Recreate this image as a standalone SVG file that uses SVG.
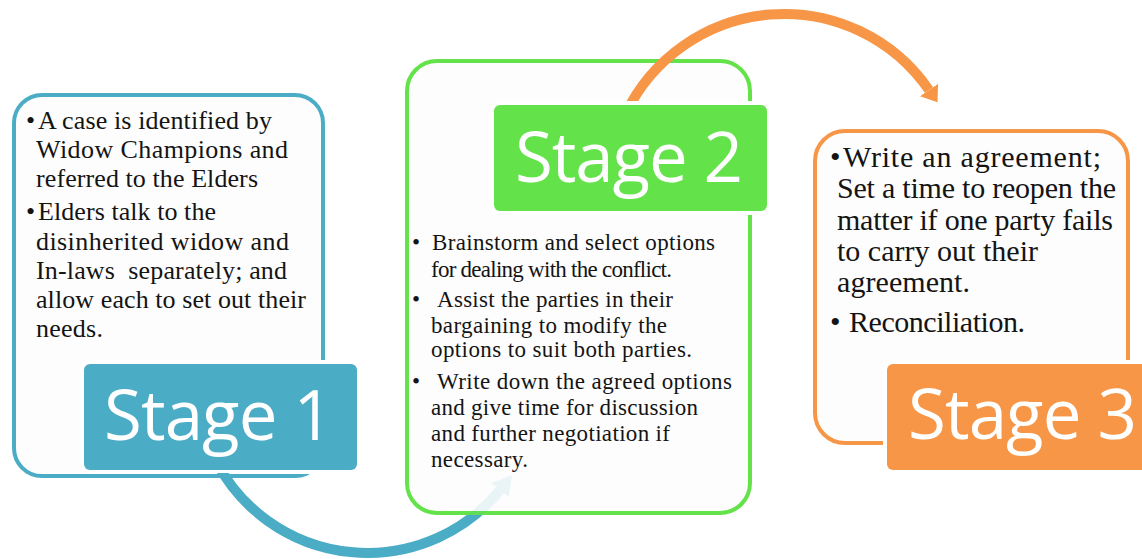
<svg xmlns="http://www.w3.org/2000/svg" width="1142" height="559" viewBox="0 0 1142 559">
<style>
.box{fill:#fdfdfd;stroke-width:4}
.lbl{stroke:#fff;stroke-width:8;paint-order:stroke}
.stage{font-family:"Open Sans","Liberation Sans",sans-serif;font-size:69px;fill:#fff}
.t{font-family:"Liberation Serif",serif;fill:#141414}
.t1{font-size:26px}
.t2{font-size:23px}
.t3{font-size:30px}
.arc{fill:none;stroke-width:10}
</style>
<defs>
<marker id="headBlue" viewBox="0 0 10 10" refX="0" refY="5" markerUnits="strokeWidth" markerWidth="1.9" markerHeight="2.2" orient="auto" preserveAspectRatio="none">
<path d="M0,0 L10,5 L0,10 Z" fill="#4bacc6"/>
</marker>
<marker id="headOrange" viewBox="0 0 10 10" refX="0" refY="5" markerUnits="strokeWidth" markerWidth="1.5" markerHeight="2.2" orient="auto" preserveAspectRatio="none">
<path d="M0,0 L10,5 L0,10 Z" fill="#f79646"/>
</marker>
<mask id="mBlue" maskUnits="userSpaceOnUse" x="0" y="0" width="1142" height="559">
<rect x="0" y="0" width="1142" height="559" fill="#fff"/>
<rect x="80" y="360" width="281" height="113" fill="#000"/>
<rect x="405" y="59" width="347" height="456" rx="32" fill="#1c1c1c"/>
</mask>
<mask id="mOrange" maskUnits="userSpaceOnUse" x="0" y="0" width="1142" height="559">
<rect x="0" y="0" width="1142" height="559" fill="#fff"/>
<rect x="490" y="101" width="281" height="114" fill="#000"/>
</mask>
</defs>

<g id="stage1">
<rect class="box" x="14" y="95" width="309" height="381" rx="28" stroke="#4bacc6"/>
<text class="t" x="26" y="129" font-size="26">•</text>
<text class="t t1" x="38" y="129" textLength="234">A case is identified by</text>
<text class="t t1" x="36" y="158" textLength="252">Widow Champions and</text>
<text class="t t1" x="36" y="187" textLength="222">referred to the Elders</text>
<text class="t" x="26" y="220" font-size="26">•</text>
<text class="t t1" x="38" y="220" textLength="178">Elders talk to the</text>
<text class="t t1" x="36" y="250" textLength="253">disinherited widow and</text>
<text class="t t1" x="36" y="279" textLength="251" style="white-space:pre">In-laws  separately; and</text>
<text class="t t1" x="36" y="308" textLength="270">allow each to set out their</text>
<text class="t t1" x="36" y="337" textLength="67">needs.</text>
<rect class="lbl" x="84" y="364" width="273" height="106" rx="6" fill="#4bacc6"/>
<text class="stage" x="104" y="440" textLength="229">Stage 1</text>
</g>

<g id="stage2">
<rect class="box" x="407" y="61" width="343" height="452" rx="30" stroke="#63e24a"/>
<rect class="lbl" x="494" y="105" width="273" height="106" rx="6" fill="#63e24a"/>
<text class="stage" x="515" y="182" textLength="228">Stage 2</text>
<text class="t" x="412" y="250" font-size="23">•</text>
<text class="t t2" x="432" y="250" textLength="283">Brainstorm and select options</text>
<text class="t t2" x="431" y="277" textLength="241">for dealing with the conflict.</text>
<text class="t" x="412" y="307" font-size="23">•</text>
<text class="t t2" x="437" y="307" textLength="236">Assist the parties in their</text>
<text class="t t2" x="431" y="333" textLength="236">bargaining to modify the</text>
<text class="t t2" x="431" y="357" textLength="261">options to suit both parties.</text>
<text class="t" x="412" y="389" font-size="23">•</text>
<text class="t t2" x="437" y="389" textLength="295">Write down the agreed options</text>
<text class="t t2" x="431" y="415" textLength="267">and give time for discussion</text>
<text class="t t2" x="431" y="441" textLength="239">and further negotiation if</text>
<text class="t t2" x="431" y="467" textLength="97">necessary.</text>
</g>

<g id="stage3">
<rect class="box" x="815" y="131" width="313" height="312" rx="30" stroke="#f79646"/>
<text class="t" x="830" y="167" font-size="30">•</text>
<text class="t t3" x="843" y="167" textLength="258">Write an agreement;</text>
<text class="t t3" x="837" y="198" textLength="279">Set a time to reopen the</text>
<text class="t t3" x="837" y="230" textLength="276">matter if one party fails</text>
<text class="t t3" x="837" y="261" textLength="201">to carry out their</text>
<text class="t t3" x="837" y="292" textLength="133">agreement.</text>
<text class="t" x="830" y="332" font-size="30">•</text>
<text class="t t3" x="849" y="332" textLength="176">Reconciliation.</text>
<rect class="lbl" x="887" y="364" width="273" height="106" rx="6" fill="#f79646"/>
<text class="stage" x="908" y="439" textLength="229">Stage 3</text>
</g>

<g id="connectors">
<path class="arc" d="M216.4,462 A171,171 0 0 0 500,490" stroke="#4bacc6" marker-end="url(#headBlue)" mask="url(#mBlue)"/>
<path class="arc" d="M625,115 A175.9,175.9 0 0 1 929,90" stroke="#f79646" marker-end="url(#headOrange)" mask="url(#mOrange)"/>
</g>
</svg>
